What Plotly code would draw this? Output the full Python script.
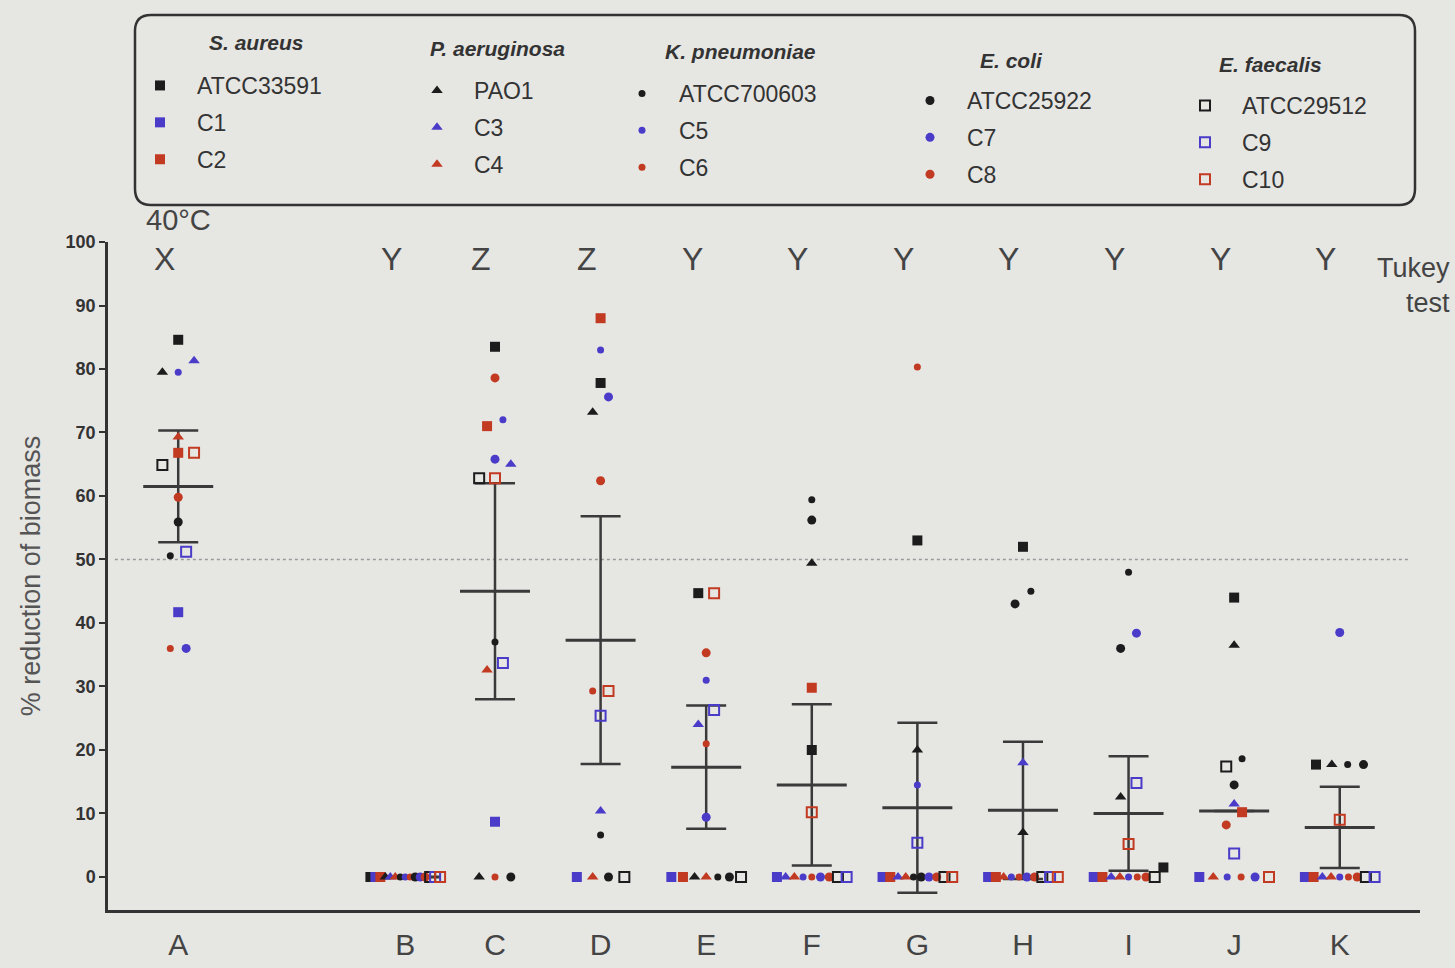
import plotly.graph_objects as go

# ---------------- data ----------------
CATEGORIES = ["A", "B", "C", "D", "E", "F", "G", "H", "I", "J", "K"]
TUKEY = ["X", "Y", "Z", "Z", "Y", "Y", "Y", "Y", "Y", "Y", "Y"]
SPECIES = ["S. aureus", "P. aeruginosa", "K. pneumoniae", "E. coli", "E. faecalis"]
STRAINS = [["ATCC33591", "C1", "C2"],
           ["PAO1", "C3", "C4"],
           ["ATCC700603", "C5", "C6"],
           ["ATCC25922", "C7", "C8"],
           ["ATCC29512", "C9", "C10"]]

# % reduction of biomass per strain, categories A..K
SA_ATCC33591 = [84.6, 0, 83.5, 77.8, 44.7, 20.0, 53.0, 52.0, 1.5, 44.0, 17.7]
SA_C1 = [41.7, 0, 8.7, 0, 0, 0, 0, 0, 0, 0, 0]
SA_C2 = [66.8, 0, 71.0, 88.0, 0, 29.8, 0, 0, 0, 10.2, 0]
PA_PAO1 = [79.5, 0, 0, 73.2, 0, 49.4, 20.0, 7.0, 12.6, 36.5, 17.7]
PA_C3 = [81.3, 0, 65.0, 10.4, 24.0, 0, 0, 18.0, 0, 11.5, 0]
PA_C4 = [69.3, 0, 32.6, 0, 0, 0, 0, 0, 0, 0, 0]
KP_ATCC700603 = [50.6, 0, 37.0, 6.6, 0, 59.4, 0, 45.0, 48.0, 18.6, 17.7]
KP_C5 = [79.5, 0, 72.0, 83.0, 31.0, 0, 14.5, 0, 0, 0, 0]
KP_C6 = [36.0, 0, 0, 29.3, 21.0, 0, 80.3, 0, 0, 0, 0]
EC_ATCC25922 = [55.9, 0, 0, 0, 0, 56.2, 0, 43.0, 36.0, 14.5, 17.7]
EC_C7 = [36.0, 0, 65.8, 75.6, 9.4, 0, 0, 0, 38.4, 0, 38.5]
EC_C8 = [59.8, 0, 78.6, 62.4, 35.3, 0, 0, 0, 0, 8.2, 0]
EF_ATCC29512 = [64.9, 0, 62.8, 0, 0, 0, 0, 0, 0, 17.4, 0]
EF_C9 = [51.2, 0, 33.7, 25.4, 26.3, 0, 5.4, 0, 14.8, 3.7, 0]
EF_C10 = [66.8, 0, 62.8, 29.3, 44.7, 10.2, 0, 0, 5.2, 0, 9.0]

SERIES = [[SA_ATCC33591, SA_C1, SA_C2],
          [PA_PAO1, PA_C3, PA_C4],
          [KP_ATCC700603, KP_C5, KP_C6],
          [EC_ATCC25922, EC_C7, EC_C8],
          [EF_ATCC29512, EF_C9, EF_C10]]

MEAN = [61.5, 0, 45.0, 37.3, 17.3, 14.5, 10.9, 10.5, 10.0, 10.4, 7.8]
ERR = [8.8, 0, 17.0, 19.5, 9.7, 12.7, 13.4, 10.8, 9.0, 0, 6.4]
THRESHOLD = 50

# ---------------- layout / style ----------------
POS = [1, 3.15, 4, 5, 6, 7, 8, 9, 10, 11, 12]
COLORS = ["#1c1c1c", "#4a3cc8", "#c23a22"]
SYMBOLS = [("square", 10, 0), ("triangle-up", 10, 0), ("circle", 7, 0),
           ("circle", 9, 0), ("square-open", 10, 2)]
FONT = "Liberation Sans, Arial, sans-serif"
BG = "#e6e6e3"
TXT = "#444"

L, R, T, B = 108, 35, 242, 58
W, H = 1455, 968
PW, PH = W - L - R, H - T - B


def px_x(px):
    return (px - L) / PW


def px_y(py):
    return (H - B - py) / PH


LEG_X = [123, 400, 605, 893, 1168]
LEG_Y = [64, 69, 72, 79, 84]
TITLE_X = [256, 497, 740, 1011, 1270]
TITLE_Y = [42, 48, 52, 60, 65]


def offsets(vals):
    order = sorted(range(len(vals)), key=lambda i: vals[i])
    clusters = []
    for i in order:
        if clusters and vals[i] - vals[clusters[-1][0]] <= 2.6:
            clusters[-1].append(i)
        else:
            clusters.append([i])
    off = [0.0] * len(vals)
    for c in clusters:
        n = len(c)
        if n == 1:
            continue
        sp = min(0.15, 0.66 / (n - 1))
        for k, i in enumerate(c):
            off[i] = (k - (n - 1) / 2) * sp
    return off


flat = [s for grp in SERIES for s in grp]
cat_offsets = [offsets([s[ci] for s in flat]) for ci in range(len(CATEGORIES))]

fig = go.Figure()

# mean +/- error
fig.add_trace(go.Scatter(
    x=POS, y=MEAN, mode="markers",
    marker=dict(symbol="line-ew", size=50, color="#3a3a3a",
                line=dict(width=3, color="#3a3a3a")),
    error_y=dict(type="data", array=ERR, width=20, thickness=2.5, color="#3a3a3a"),
    showlegend=False, hoverinfo="skip"))

k = 0
for gi, grp in enumerate(SERIES):
    sym, size, lw = SYMBOLS[gi]
    legname = "legend" if gi == 0 else f"legend{gi + 1}"
    for si, vals in enumerate(grp):
        xs = [POS[ci] + cat_offsets[ci][k] for ci in range(len(CATEGORIES))]
        col = COLORS[si]
        marker = dict(symbol=sym, size=size, color=col)
        if lw:
            marker["line"] = dict(width=lw, color=col)
        fig.add_trace(go.Scatter(
            x=xs, y=vals, mode="markers", marker=marker,
            name=STRAINS[gi][si], legend=legname,
            legendgroup=f"g{k}"))
        k += 1

annotations = []
for ci, letter in enumerate(TUKEY):
    annotations.append(dict(x=POS[ci], y=97.3, xref="x", yref="y", text=letter,
                            showarrow=False, xshift=-14,
                            font=dict(size=32, color=TXT, family=FONT)))
annotations.append(dict(x=POS[0], y=px_y(220), xref="x", yref="paper", text="40°C",
                        showarrow=False, xshift=0, yanchor="middle",
                        font=dict(size=29, color=TXT, family=FONT)))
annotations.append(dict(x=px_x(1452), y=93.2, xref="paper", yref="y",
                        text="Tukey<br>test", showarrow=False, xanchor="right",
                        align="right", font=dict(size=27, color=TXT, family=FONT)))
for gi, sp in enumerate(SPECIES):
    annotations.append(dict(x=px_x(TITLE_X[gi]), y=px_y(TITLE_Y[gi]), xref="paper",
                            yref="paper", text="<b><i>" + sp + "</i></b>",
                            showarrow=False, xanchor="center", yanchor="middle",
                            font=dict(size=21, color="#333", family=FONT)))

# rounded legend box
x0, x1 = px_x(135), px_x(1415)
y0, y1 = px_y(205), px_y(15)
rx, ry = 16 / PW, 16 / PH
box = (f"M {x0 + rx},{y1} L {x1 - rx},{y1} Q {x1},{y1} {x1},{y1 - ry} "
       f"L {x1},{y0 + ry} Q {x1},{y0} {x1 - rx},{y0} L {x0 + rx},{y0} "
       f"Q {x0},{y0} {x0},{y0 + ry} L {x0},{y1 - ry} Q {x0},{y1} {x0 + rx},{y1} Z")

shapes = [
    dict(type="line", xref="x", yref="y", x0=0.4, x1=12.65, y0=THRESHOLD, y1=THRESHOLD,
         line=dict(color="#9a9a9a", width=1.5, dash="dot"), layer="below"),
    dict(type="path", xref="paper", yref="paper", path=box,
         line=dict(color="#333", width=2.5)),
]

layout = dict(
    width=W, height=H,
    margin=dict(l=L, r=R, t=T, b=B, autoexpand=False),
    paper_bgcolor=BG, plot_bgcolor=BG,
    font=dict(family=FONT, color="#333"),
    xaxis=dict(range=[0.335, 12.76], tickvals=POS, ticktext=CATEGORIES,
               showline=True, linewidth=2.5, linecolor="#333", ticks="outside",
               ticklen=6, tickcolor="rgba(0,0,0,0)", automargin=False,
               tickfont=dict(size=30, color=TXT), showgrid=False, zeroline=False),
    yaxis=dict(range=[-5.2, 100], tickvals=list(range(0, 101, 10)),
               showline=True, linewidth=2.5, linecolor="#333", ticks="outside",
               ticklen=6, tickwidth=2, tickcolor="#333", automargin=False,
               tickfont=dict(size=18, color="#333", weight="bold"),
               showgrid=False, zeroline=False,
               title=dict(text="% reduction of biomass", standoff=18,
                          font=dict(size=27, color="#555"))),
    annotations=annotations, shapes=shapes,
)

for gi in range(5):
    key = "legend" if gi == 0 else f"legend{gi + 1}"
    layout[key] = dict(
        x=px_x(LEG_X[gi]), y=px_y(LEG_Y[gi]), xanchor="left", yanchor="top",
        bgcolor="rgba(0,0,0,0)", borderwidth=0, itemwidth=64,
        font=dict(size=23, color="#333", family=FONT),
        tracegroupgap=4, traceorder="grouped", itemclick=False, itemdoubleclick=False,
    )

fig.update_layout(**layout)
fig.write_html("out.html", config={"displayModeBar": False},
               post_script="document.body.style.margin='0';document.body.style.overflow='hidden';")
